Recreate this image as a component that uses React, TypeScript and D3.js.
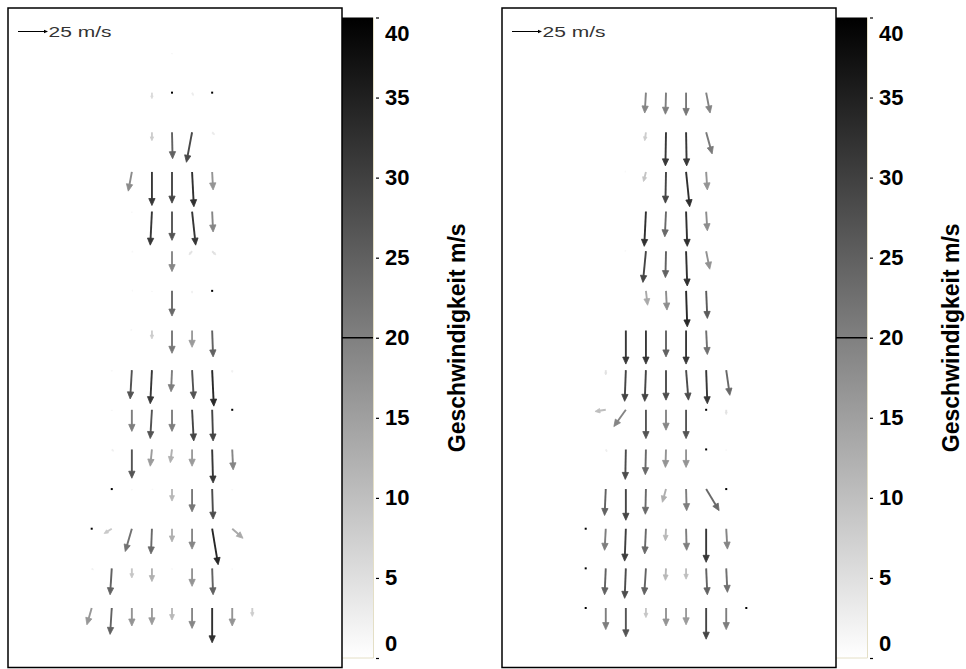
import * as d3 from 'd3';
import React, {Component} from "react";

// Grid of 9 columns x 15 rows; vectors are [col, row, u, v] in m/s (v < 0 = downwards)
const columns = d3.range(9);
const rows = d3.range(15);
const colorbarTicks = [0, 5, 10, 15, 20, 25, 30, 35, 40];
const markedLevel = 20;
const referenceSpeed = 25;
const referenceLabel = "25 m/s";
const colorbarLabel = "Geschwindigkeit m/s";

const leftVectors = [
  [4, 0, 0, -1],
  [3, 1, 0, -5], [5, 1, 1, -2.5],
  [3, 2, 0, -7], [4, 2, 0.5, -22], [5, 2, -4.7, -25], [6, 2, 2, -2],
  [2, 3, -3, -16], [3, 3, 0, -28], [4, 3, 0, -26], [5, 3, 1.5, -29], [6, 3, 0.8, -15],
  [2, 4, 0, -1], [3, 4, -1.4, -28], [4, 4, 0, -24], [5, 4, 3, -28], [6, 4, 0.8, -17],
  [2, 5, 0.8, -0.8], [4, 5, 0, -17], [5, 5, -2.5, -3], [6, 5, 3, -3],
  [2, 6, 0.8, 0.5], [3, 6, 0, -1], [4, 6, 0, -21], [5, 6, 0, -2],
  [2, 7, -0.8, 0.8], [3, 7, 0, -7], [4, 7, 0, -19], [5, 7, 0, -14], [6, 7, 0.8, -22],
  [1, 8, 0, -1], [2, 8, -1.4, -24], [3, 8, -1.4, -28], [4, 8, -0.8, -18], [5, 8, 1.4, -24], [6, 8, 1.4, -30], [7, 8, 0, -2],
  [1, 9, 0, -1], [2, 9, 0, -18], [3, 9, -1.4, -24], [4, 9, 0, -18], [5, 9, 1.4, -26], [6, 9, 0.8, -26],
  [1, 10, 1.5, -1.5], [2, 10, 0, -24], [3, 10, -1.4, -14], [4, 10, -1.4, -11], [5, 10, 0, -14], [6, 10, 0.8, -28], [7, 10, 0.8, -17],
  [2, 11, 0, -1], [3, 11, 0.8, -0.8], [4, 11, 0, -10], [5, 11, 0, -19], [6, 11, 0.8, -25], [7, 11, 0, -1],
  [1, 12, -6.4, -4], [2, 12, -5.5, -19], [3, 12, -0.8, -21], [4, 12, 0, -11], [5, 12, 0, -17], [6, 12, 5, -30], [7, 12, 9, -8],
  [0, 13, 1.4, -1.4], [1, 13, -1.4, -22], [2, 13, 0, -8], [3, 13, 0, -11], [4, 13, 0, -1], [5, 13, 0, -15], [6, 13, 0.8, -22], [7, 13, 0, -1],
  [0, 14, -4, -14], [1, 14, -1.4, -22], [2, 14, 0, -15], [3, 14, 0, -14], [4, 14, 0, -10], [5, 14, 0, -17], [6, 14, 0, -29], [7, 14, 0, -15], [8, 14, 0, -7],
];
const leftMasked = [[4, 1], [6, 1], [6, 6], [7, 9], [1, 11], [0, 12]];

const rightVectors = [
  [3, 1, -1, -17], [4, 1, -0.5, -18], [5, 1, 0, -19], [6, 1, 3.3, -17],
  [3, 2, -1, -7], [4, 2, -0.5, -28], [5, 2, 0.5, -28], [6, 2, 5, -18],
  [2, 3, -0.8, 0.5], [3, 3, -2, -8], [4, 3, -0.5, -26], [5, 3, 3, -29], [6, 3, 1, -15],
  [3, 4, -1.4, -29], [4, 4, -1, -21], [5, 4, 1, -29], [6, 4, 1, -16],
  [2, 5, -0.8, 0.5], [3, 5, -2.5, -26], [4, 5, -0.5, -22], [5, 5, 1, -29], [6, 5, 3, -15],
  [3, 6, 1.4, -12], [4, 6, 0.8, -16], [5, 6, 1, -30], [6, 6, 1, -23],
  [2, 7, 0, -28], [3, 7, 0, -28], [4, 7, 0, -22], [5, 7, 0, -28], [6, 7, 1, -20],
  [1, 8, 0, -4], [2, 8, -1, -26], [3, 8, -1, -26], [4, 8, 0, -25], [5, 8, 2, -25], [6, 8, 1, -28], [7, 8, 3, -21],
  [1, 9, -9, -1.4], [2, 9, -10, -14], [3, 9, 0, -24], [4, 9, 0, -17], [5, 9, 0, -24], [7, 9, 0, -4],
  [1, 10, 1, -2], [2, 10, -0.5, -25], [3, 10, -0.5, -21], [4, 10, -0.5, -15], [5, 10, 0, -15], [7, 10, 0, -1],
  [1, 11, -1, -22], [2, 11, 0, -26], [3, 11, -0.5, -21], [4, 11, -3, -11], [5, 11, 0.5, -18], [6, 11, 10.8, -18],
  [1, 12, -1, -18], [2, 12, -1, -27], [3, 12, -1, -21], [4, 12, -0.5, -10], [5, 12, 0.5, -18], [6, 12, 0, -28], [7, 12, 1, -17],
  [1, 13, -1, -22], [2, 13, -1, -25], [3, 13, -1.4, -22], [4, 13, -0.5, -10], [5, 13, 0, -9], [6, 13, 1, -22], [7, 13, 1, -20],
  [1, 14, 0, -18], [2, 14, 0, -24], [3, 14, 0, -8], [4, 14, 0, -15], [5, 14, 0, -14], [6, 14, 0, -26], [7, 14, 0, -18],
];
const rightMasked = [[6, 9], [6, 10], [7, 11], [0, 12], [0, 13], [0, 14], [8, 14]];

const panels = [
  {dx: 0, vectors: leftVectors, masked: leftMasked},
  {dx: 494, vectors: rightVectors, masked: rightMasked},
];

export default class App extends Component {
  node: SVGSVGElement | null = null;

  componentDidMount() {
    this.createChart();
  }

  componentDidUpdate() {
    this.createChart();
  }

  createChart() {
    const svg = d3.select(this.node);
    svg.selectAll("*").remove();

    const width = 966;
    const height = 669;
    const frame = {left: 8, top: 8, right: 342, bottom: 667.5};
    const bar = {left: 342, right: 373, top: 17.5, bottom: 658};
    const font = "Arial, 'Liberation Sans', sans-serif";

    svg.attr("width", width).attr("height", height);

    const x = d3.scaleLinear().domain([0, columns.length - 1]).range([91.7, 252.3]);
    const y = d3.scaleLinear().domain([0, rows.length - 1]).range([53, 608]);
    const len = d3.scaleLinear().domain([0, referenceSpeed]).range([0, 30]);
    const color = d3.scaleLinear<string>().domain([0, 40]).range(["#ffffff", "#000000"]);
    const barY = d3.scaleLinear().domain([0, 40]).range([bar.bottom, bar.top]);
    // arrows render a little darker than the bar (anti-aliasing in the original)
    const arrowColor = (s: number) => color(Math.min(40, s * 1.12));

    const grad = svg.append("defs").append("linearGradient")
        .attr("id", "speedGrad")
        .attr("x1", 0).attr("y1", 1).attr("x2", 0).attr("y2", 0);
    d3.range(0, 41, 10).forEach(v => {
      grad.append("stop").attr("offset", `${v / 40 * 100}%`).attr("stop-color", color(v));
    });

    const head = (x0: number, y0: number, x1: number, y1: number, maxH: number) => {
      const L = Math.hypot(x1 - x0, y1 - y0);
      const ux = (x1 - x0) / L, uy = (y1 - y0) / L;
      const h = Math.min(maxH, L * 0.45), w = h * 0.45;
      const bx = x1 - ux * h, by = y1 - uy * h;
      return {
        stem: `M${x0},${y0}L${bx + ux * 0.5},${by + uy * 0.5}`,
        tip: `M${x1},${y1}L${bx - uy * w},${by + ux * w}L${bx + uy * w},${by - ux * w}Z`,
      };
    };

    for (const p of panels) {
      const g = svg.append("g").attr("transform", `translate(${p.dx},0)`);

      // colour bar
      g.append("rect")
          .attr("x", bar.left).attr("y", bar.top)
          .attr("width", bar.right - bar.left).attr("height", bar.bottom - bar.top)
          .attr("fill", "url(#speedGrad)");
      g.append("path")
          .attr("d", `M${bar.left},${bar.bottom}H${bar.right + 0.5}V${bar.top}`)
          .attr("fill", "none").attr("stroke", "#e4dfc6").attr("stroke-width", 1);
      g.append("line")
          .attr("x1", bar.left).attr("x2", bar.right)
          .attr("y1", barY(markedLevel)).attr("y2", barY(markedLevel))
          .attr("stroke", "#000").attr("stroke-width", 1.5);

      const axis = g.append("g")
          .attr("transform", `translate(${bar.right + 3},0)`)
          .call(d3.axisRight(barY).tickValues(colorbarTicks).tickSize(3).tickPadding(6).tickFormat(d3.format("d")));
      axis.select(".domain").remove();
      axis.selectAll(".tick line").attr("stroke", "#000").attr("stroke-width", 1.2);
      axis.selectAll(".tick text")
          .attr("fill", "#000")
          .attr("font-family", font)
          .attr("font-weight", "bold")
          .attr("font-size", 22)
          .attr("y", (d: any) => d === 40 ? 15.5 : d === 0 ? -15 : 0);

      g.append("text")
          .attr("transform", `translate(465,${barY(markedLevel)}) rotate(-90)`)
          .attr("text-anchor", "middle")
          .attr("font-family", font)
          .attr("font-weight", "bold")
          .attr("font-size", 23)
          .attr("fill", "#000")
          .text(colorbarLabel);

      // frame
      g.append("rect")
          .attr("x", frame.left).attr("y", frame.top)
          .attr("width", frame.right - frame.left).attr("height", frame.bottom - frame.top)
          .attr("fill", "none").attr("stroke", "#000").attr("stroke-width", 1.5);

      // reference arrow
      const ref = head(18, 31.5, 18 + len(referenceSpeed), 31.5, 4);
      g.append("path").attr("d", ref.stem).attr("stroke", "#000").attr("stroke-width", 1);
      g.append("path").attr("d", ref.tip).attr("fill", "#000");
      g.append("text")
          .attr("x", 48.5).attr("y", 36.5)
          .attr("font-family", font)
          .attr("font-size", 15)
          .attr("fill", "#333")
          .attr("textLength", 63)
          .attr("lengthAdjust", "spacingAndGlyphs")
          .text(referenceLabel);

      // vectors
      const vg = g.append("g");
      p.vectors.forEach(([c, r, u, v]) => {
        const s = Math.hypot(u, v);
        const x0 = x(c), y0 = y(r);
        const x1 = x0 + len(u), y1 = y0 - len(v);
        const a = head(x0, y0, x1, y1, 7);
        vg.append("path").attr("d", a.stem)
            .attr("stroke", arrowColor(s)).attr("stroke-width", 1.9).attr("fill", "none");
        vg.append("path").attr("d", a.tip).attr("fill", arrowColor(s))
            .attr("stroke", arrowColor(s)).attr("stroke-width", 0.8);
      });

      vg.selectAll("rect.masked")
          .data(p.masked)
          .join("rect")
          .attr("class", "masked")
          .attr("x", d => x(d[0]) - 1).attr("y", d => y(d[1]) - 1)
          .attr("width", 2).attr("height", 2)
          .attr("fill", "#000");
    }
  }

  render() {
    return (
        <svg ref={node => { this.node = node; }}
             style={{position: "absolute", left: 0, top: 0, display: "block", background: "#fff"}}/>
    );
  }
}
